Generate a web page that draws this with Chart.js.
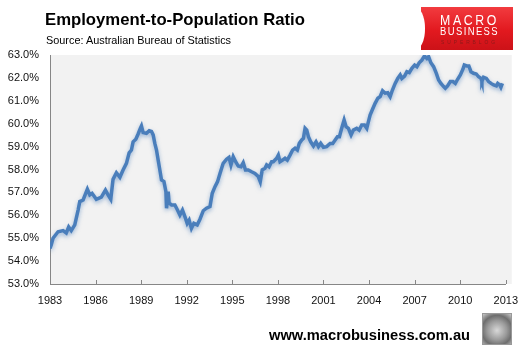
<!DOCTYPE html>
<html>
<head>
<meta charset="utf-8">
<script src="https://cdn.jsdelivr.net/npm/chart.js@4.4.0/dist/chart.umd.min.js"></script>
<style>
  body { margin: 0; background: #fff; }
  #wrap { position: relative; width: 528px; height: 353px; overflow: hidden; font-family: "Liberation Sans", Arial, sans-serif; }
  #c { position: absolute; left: 0; top: 0; }
  .t { position: absolute; white-space: nowrap; line-height: 1; transform-origin: 0 0; }
  #title { left: 45px; top: 11px; font-size: 17px; font-weight: bold; color: #000; }
  #sub { left: 46px; top: 34.5px; font-size: 11.5px; color: #000; }
  #footer { left: 269px; top: 328px; font-size: 14px; font-weight: bold; color: #000; }
  #logo { position: absolute; left: 421px; top: 7px; width: 92px; height: 43px;
          background: linear-gradient(180deg, #f23b3f 0%, #e2191f 55%, #cc1218 100%); }
  #logoCut { position: absolute; left: 412px; top: 7px; width: 13px; height: 43px; background: #fff;
             border-radius: 0 10px 10px 0 / 0 21px 21px 0; }
  .lg { color: #fff; font-weight: normal; }
  #l1 { left: 440px; top: 13px; font-size: 14px; letter-spacing: 3px; }
  #l2 { left: 440px; top: 26.5px; font-size: 10px; letter-spacing: 1.5px; }
  #l3 { left: 441px; top: 39.5px; font-size: 5px; letter-spacing: 3px; color: #8c1a1a; }
  #wolf { position: absolute; left: 482px; top: 313px; width: 30px; height: 32px; box-sizing: border-box;
          border: 1px solid #999;
          background: radial-gradient(circle at 50% 55%, #d8d8d8 0%, #9a9a9a 45%, #6e6e6e 70%, #c8c8c8 100%); }
</style>
</head>
<body>
<div id="wrap">
  <canvas id="c" width="528" height="353"></canvas>
  <div class="t" id="title" data-w="260">Employment-to-Population Ratio</div>
  <div class="t" id="sub" data-w="185">Source: Australian Bureau of Statistics</div>
  <div id="logo"></div>
  <div id="logoCut"></div>
  <div class="t lg" id="l1" data-w="59">MACRO</div>
  <div class="t lg" id="l2" data-w="59">BUSINESS</div>
  <div class="t" id="l3" data-w="57">SUPERBLOG</div>
  <div class="t" id="footer" data-w="201">www.macrobusiness.com.au</div>
  <div id="wolf"></div>
</div>
<script>
// Odczyty z wykresu: rok (dziesiętnie) i wskaźnik zatrudnienia (%)
const years = [
  1983.00, 1983.08, 1983.20, 1983.53, 1983.86, 1984.07, 1984.23, 1984.40, 1984.63, 1984.85,
  1984.96, 1985.18, 1985.46, 1985.62, 1985.77, 1986.05, 1986.38, 1986.65, 1986.82, 1987.00,
  1987.15, 1987.37, 1987.60, 1987.81, 1988.03, 1988.21, 1988.36, 1988.47, 1988.65, 1988.80,
  1988.95, 1989.02, 1989.13, 1989.35, 1989.53, 1989.68, 1989.79, 1989.90, 1990.01, 1990.12,
  1990.23, 1990.34, 1990.50, 1990.63, 1990.67, 1990.78, 1990.84, 1991.00, 1991.22, 1991.39,
  1991.55, 1991.72, 1991.88, 1992.03, 1992.16, 1992.31, 1992.47, 1992.69, 1992.87, 1993.09,
  1993.30, 1993.53, 1993.68, 1993.86, 1994.03, 1994.19, 1994.40, 1994.62, 1994.78, 1994.91,
  1995.06, 1995.22, 1995.39, 1995.57, 1995.72, 1995.87, 1996.05, 1996.27, 1996.49, 1996.71,
  1996.84, 1996.97, 1997.15, 1997.26, 1997.42, 1997.59, 1997.70, 1997.92, 1998.03, 1998.14,
  1998.31, 1998.47, 1998.62, 1998.80, 1998.97, 1999.13, 1999.28, 1999.41, 1999.57, 1999.68,
  1999.79, 1999.90, 2000.01, 2000.16, 2000.34, 2000.51, 2000.67, 2000.82, 2001.00, 2001.21,
  2001.44, 2001.61, 2001.77, 2001.92, 2002.05, 2002.20, 2002.36, 2002.49, 2002.64, 2002.82,
  2002.97, 2003.19, 2003.35, 2003.52, 2003.70, 2003.85, 2003.96, 2004.07, 2004.23, 2004.40,
  2004.58, 2004.73, 2004.89, 2005.06, 2005.23, 2005.39, 2005.54, 2005.72, 2005.89, 2006.05,
  2006.16, 2006.34, 2006.49, 2006.65, 2006.82, 2007.00, 2007.15, 2007.30, 2007.48, 2007.65,
  2007.81, 2007.92, 2008.07, 2008.25, 2008.43, 2008.58, 2008.73, 2008.91, 2009.02, 2009.17,
  2009.35, 2009.52, 2009.68, 2009.83, 2010.01, 2010.18, 2010.27, 2010.44, 2010.57, 2010.71,
  2010.88, 2011.06, 2011.21, 2011.37, 2011.43, 2011.54, 2011.72, 2011.87, 2012.03, 2012.20,
  2012.38, 2012.47, 2012.60, 2012.68, 2012.78
];
const ratio = [
  54.55, 54.70, 55.00, 55.28, 55.33, 55.23, 55.49, 55.33, 55.58, 56.23,
  56.60, 56.67, 57.14, 56.89, 56.96, 56.70, 56.79, 57.10, 56.89, 56.70,
  57.57, 57.86, 57.66, 57.98, 58.27, 58.73, 58.85, 59.21, 59.32, 59.55,
  59.80, 59.90, 59.61, 59.58, 59.69, 59.66, 59.51, 59.14, 58.85, 58.41,
  57.98, 57.54, 57.47, 57.03, 56.31, 57.03, 56.54, 56.45, 56.45, 56.23,
  56.01, 56.23, 55.94, 55.65, 55.79, 55.43, 55.65, 55.58, 55.83, 56.20,
  56.31, 56.38, 56.96, 57.25, 57.47, 57.83, 58.27, 58.45, 58.53, 58.20,
  58.56, 58.34, 58.15, 58.12, 58.30, 57.98, 57.98, 57.90, 57.83, 57.69,
  57.47, 57.98, 58.05, 58.20, 58.12, 58.34, 58.34, 58.49, 58.63, 58.34,
  58.41, 58.49, 58.41, 58.63, 58.85, 58.93, 58.85, 59.14, 59.29, 59.36,
  59.80, 59.72, 59.43, 59.21, 59.03, 59.21, 59.00, 59.14, 58.97, 59.00,
  59.14, 59.14, 59.29, 59.43, 59.43, 59.80, 60.16, 59.87, 59.80, 59.51,
  59.72, 59.80, 59.72, 59.94, 59.94, 59.80, 60.09, 60.38, 60.63, 60.89,
  61.11, 61.18, 61.44, 61.33, 61.35, 61.18, 61.47, 61.76, 61.98, 62.13,
  61.98, 62.08, 62.27, 62.23, 62.42, 62.56, 62.49, 62.66, 62.78, 62.96,
  62.85, 62.93, 62.66, 62.49, 62.20, 61.91, 61.76, 61.62, 61.55, 61.65,
  61.84, 61.84, 61.76, 61.94, 62.13, 62.38, 62.56, 62.52, 62.52, 62.27,
  62.20, 62.17, 62.05, 61.98, 61.84, 62.03, 61.98, 61.84, 61.76, 61.69,
  61.65, 61.76, 61.69, 61.59, 61.76
];
const xTicks = [1983, 1986, 1989, 1992, 1995, 1998, 2001, 2004, 2007, 2010, 2013];
const yTicks = [53, 54, 55, 56, 57, 58, 59, 60, 61, 62, 63];

// Dopasowanie szerokości tekstów HTML do oryginału
document.querySelectorAll('.t[data-w]').forEach(el => {
  const w = parseFloat(el.dataset.w);
  const real = el.getBoundingClientRect().width;
  if (real > 0) el.style.transform = 'scaleX(' + (w / real).toFixed(3) + ')';
});

const axisGrey = '#868686';

// Szare tło obszaru wykresu, cień linii, znaczniki osi X do środka
const plotDecor = {
  id: 'plotDecor',
  beforeDraw(chart) {
    const { ctx, chartArea: a } = chart;
    ctx.save();
    ctx.fillStyle = '#f2f2f2';
    ctx.fillRect(a.left, a.top, a.right - a.left + 6, a.bottom - a.top);
    ctx.restore();
  },
  beforeDatasetsDraw(chart) {
    const ctx = chart.ctx;
    ctx.save();
    ctx.shadowColor = 'rgba(79, 129, 189, 0.55)';
    ctx.shadowBlur = 4;
    ctx.shadowOffsetY = 2;
  },
  afterDatasetsDraw(chart) {
    chart.ctx.restore();
  },
  afterDraw(chart) {
    const { ctx, chartArea: a, scales } = chart;
    ctx.save();
    ctx.strokeStyle = axisGrey;
    ctx.lineWidth = 1;
    xTicks.forEach(v => {
      const px = Math.round(scales.x.getPixelForValue(v)) + 0.5;
      ctx.beginPath();
      ctx.moveTo(px, a.bottom);
      ctx.lineTo(px, a.bottom - 4);
      ctx.stroke();
    });
    ctx.restore();
  }
};

new Chart(document.getElementById('c'), {
  type: 'line',
  data: {
    datasets: [{
      data: years.map((y, i) => ({ x: y, y: ratio[i] })),
      borderColor: '#4a7ebb',
      borderWidth: 3.5,
      pointRadius: 0,
      tension: 0,
      fill: false
    }]
  },
  options: {
    responsive: false,
    devicePixelRatio: 1,
    animation: false,
    layout: { padding: { top: 55, right: 22, left: 0, bottom: 0 } },
    plugins: {
      legend: { display: false },
      tooltip: { enabled: false }
    },
    scales: {
      x: {
        type: 'linear',
        min: 1983,
        max: 2013,
        afterBuildTicks: s => { s.ticks = xTicks.map(v => ({ value: v })); },
        afterFit: s => { s.height = 69; },
        grid: { display: false, drawTicks: false },
        border: { display: true, color: axisGrey, width: 1 },
        ticks: {
          padding: 10,
          color: '#111',
          font: { family: 'Liberation Sans', size: 11 },
          maxRotation: 0,
          autoSkip: false,
          callback: v => String(v)
        }
      },
      y: {
        min: 53,
        max: 63,
        afterBuildTicks: s => { s.ticks = yTicks.map(v => ({ value: v })); },
        afterFit: s => { s.width = 50; },
        grid: { display: false, drawTicks: false },
        border: { display: true, color: axisGrey, width: 1 },
        ticks: {
          padding: 11,
          color: '#111',
          font: { family: 'Liberation Sans', size: 11 },
          callback: v => v.toFixed(1) + '%'
        }
      }
    }
  },
  plugins: [plotDecor]
});
</script>
</body>
</html>
